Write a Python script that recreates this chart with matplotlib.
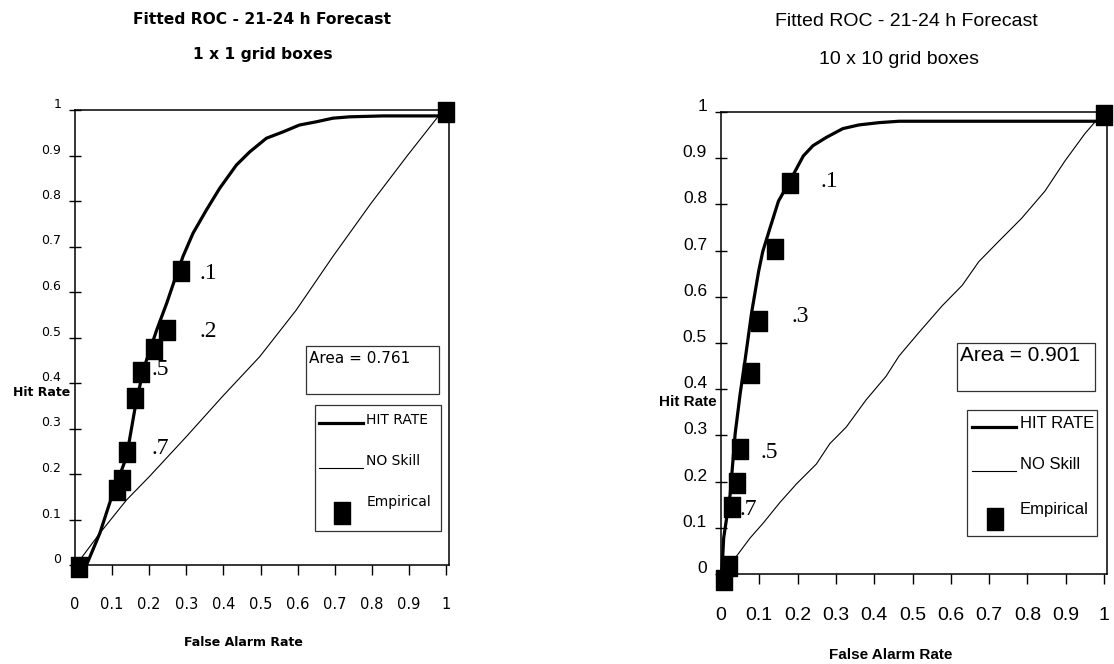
import matplotlib
matplotlib.use('Agg')
import matplotlib.pyplot as plt
from matplotlib.path import Path
from matplotlib.patches import Rectangle
from matplotlib.transforms import ScaledTranslation

# ---------------- data: left panel (1 x 1 grid boxes) ----------------
fit1_far = [0.031, 0.067, 0.099, 0.139, 0.161, 0.184, 0.220, 0.247, 0.270, 0.291, 0.318,
            0.354, 0.390, 0.435, 0.471, 0.516, 0.561, 0.605, 0.650, 0.695, 0.740,
            0.830, 0.982, 1.000]
fit1_hr = [0.000, 0.070, 0.150, 0.238, 0.341, 0.429, 0.516, 0.575, 0.630, 0.678, 0.729,
           0.780, 0.828, 0.879, 0.908, 0.938, 0.952, 0.967, 0.974, 0.982, 0.985,
           0.987, 0.987, 0.987]
nos1_far = [0.000, 0.013, 0.067, 0.139, 0.200, 0.300, 0.397, 0.498, 0.596, 0.695,
            0.798, 0.897, 0.982, 1.000]
nos1_hr = [0.000, 0.011, 0.070, 0.143, 0.194, 0.282, 0.370, 0.458, 0.560, 0.678,
           0.795, 0.901, 0.989, 0.996]
emp1_far = [0.011, 0.112, 0.128, 0.139, 0.161, 0.179, 0.213, 0.248, 0.287, 1.000]
emp1_hr = [-0.004, 0.165, 0.187, 0.249, 0.366, 0.425, 0.474, 0.516, 0.647, 0.996]
lab1_text = ['.1', '.2', '.5', '.7']
lab1_x = [0.359, 0.359, 0.229, 0.229]
lab1_y = [0.641, 0.513, 0.429, 0.256]
area1 = '0.761'

# ---------------- data: right panel (10 x 10 grid boxes) ----------------
fit2_far = [0.000, 0.004, 0.007, 0.024, 0.037, 0.050, 0.063, 0.080, 0.098, 0.109,
            0.128, 0.150, 0.180, 0.215, 0.240, 0.275, 0.318, 0.360, 0.413, 0.465,
            1.000]
fit2_hr = [-0.010, 0.030, 0.078, 0.173, 0.304, 0.390, 0.464, 0.566, 0.654, 0.698,
           0.749, 0.807, 0.851, 0.905, 0.927, 0.945, 0.964, 0.972, 0.977, 0.980,
           0.980]
nos2_far = [0.000, 0.040, 0.076, 0.110, 0.154, 0.197, 0.249, 0.284, 0.327, 0.379,
            0.431, 0.465, 0.517, 0.578, 0.630, 0.673, 0.725, 0.785, 0.846, 0.898,
            0.950, 0.976, 1.000]
nos2_hr = [0.000, 0.038, 0.078, 0.110, 0.155, 0.195, 0.238, 0.282, 0.318, 0.377,
           0.428, 0.472, 0.523, 0.581, 0.625, 0.676, 0.720, 0.770, 0.829, 0.894,
           0.953, 0.978, 0.993]
emp2_far = [0.009, 0.021, 0.030, 0.043, 0.050, 0.079, 0.100, 0.140, 0.180, 1.000]
emp2_hr = [-0.012, 0.017, 0.144, 0.196, 0.271, 0.435, 0.548, 0.703, 0.847, 0.993]
lab2_text = ['.1', '.3', '.5', '.7']
lab2_x = [0.284, 0.206, 0.126, 0.072]
lab2_y = [0.850, 0.558, 0.264, 0.140]
area2 = '0.901'

ticks = [0, 0.1, 0.2, 0.3, 0.4, 0.5, 0.6, 0.7, 0.8, 0.9, 1.0]
tick_labels = ['0', '0.1', '0.2', '0.3', '0.4', '0.5', '0.6', '0.7', '0.8', '0.9', '1']

W, H = 1114, 664
fig = plt.figure(figsize=(W / 100, H / 100), dpi=100)

# custom tall square marker
rect_marker = Path([(-0.37, -0.5), (0.37, -0.5), (0.37, 0.5), (-0.37, 0.5), (-0.37, -0.5)],
                   [Path.MOVETO, Path.LINETO, Path.LINETO, Path.LINETO, Path.CLOSEPOLY])


def px_axes(l, r, b, t):
    return fig.add_axes([l / W, 1 - b / H, (r - l) / W, (b - t) / H])


def panel(ax, xmax, fit_x, fit_y, nos_x, nos_y, emp_x, emp_y, lab_t, lab_x, lab_y,
          area, font, xt_size, yt_size, leg_size, area_size, box_area, box_leg, leg, xpad):
    ax.set_xlim(0, xmax)
    ax.set_ylim(0, 1)
    for s in ax.spines.values():
        s.set_linewidth(1.1)
    ax.set_xticks(ticks)
    ax.set_xticklabels(tick_labels, fontsize=xt_size, family=font)
    ax.set_yticks(ticks)
    ax.set_yticklabels(tick_labels, fontsize=yt_size, family=font)
    ax.tick_params(axis='x', direction='out', length=7, width=1, pad=xpad)
    ax.tick_params(axis='y', direction='inout', length=8, width=1, pad=6)
    off = ScaledTranslation(0, 0.07, fig.dpi_scale_trans)
    for lb in ax.get_yticklabels():
        lb.set_transform(lb.get_transform() + off)

    ax.plot(nos_x, nos_y, color='black', lw=0.8, clip_on=False, zorder=3)
    ax.plot(fit_x, fit_y, color='black', lw=2.3, clip_on=False, zorder=4)
    ax.plot(emp_x, emp_y, linestyle='none', marker=rect_marker, markersize=15,
            color='black', clip_on=False, zorder=5)
    for t, x, y in zip(lab_t, lab_x, lab_y):
        ax.text(x, y, t, fontsize=17, family='Liberation Serif', ha='center', va='center')

    # area box
    x0, x1, y0, y1 = box_area
    ax.add_patch(Rectangle((x0, y0), x1 - x0, y1 - y0, fill=False, edgecolor='#333333',
                           lw=0.9, zorder=2))
    ax.text(x0 + 0.008, y1 - 0.027, 'Area = ' + area, fontsize=area_size, family=font,
            ha='left', va='center')
    # legend box
    x0, x1, y0, y1 = box_leg
    ax.add_patch(Rectangle((x0, y0), x1 - x0, y1 - y0, fill=False, edgecolor='#333333',
                           lw=0.9, zorder=2))
    lx0, lx1, tx, y_hit, y_nos, y_emp_t, sq_x, sq_y = leg
    ax.plot([lx0, lx1], [y_hit, y_hit], color='black', lw=2.3)
    ax.text(tx, y_hit + 0.007, 'HIT RATE', fontsize=leg_size, family=font, ha='left', va='center')
    ax.plot([lx0, lx1], [y_nos, y_nos], color='black', lw=0.8)
    ax.text(tx, y_nos + 0.015, 'NO Skill', fontsize=leg_size, family=font, ha='left', va='center')
    ax.text(tx, y_emp_t, 'Empirical', fontsize=leg_size, family=font, ha='left', va='center')
    ax.plot([sq_x], [sq_y], linestyle='none', marker=rect_marker, markersize=16, color='black')


# ---------------- left panel ----------------
ax1 = px_axes(75, 449, 565, 110)
panel(ax1, 374 / 371, fit1_far, fit1_hr, nos1_far, nos1_hr, emp1_far, emp1_hr,
      lab1_text, lab1_x, lab1_y, area1, 'DejaVu Sans', 10.5, 9, 10, 11,
      (0.622, 0.982, 0.376, 0.481), (0.646, 0.987, 0.075, 0.352),
      (0.659, 0.776, 0.785, 0.311, 0.214, 0.138, 0.72, 0.114), 16)
fig.text(262 / W, 1 - 19 / H, 'Fitted ROC - 21-24 h Forecast', fontsize=11.2,
         fontweight='bold', family='DejaVu Sans', ha='center', va='center')
fig.text(263 / W, 1 - 55 / H, '1 x 1 grid boxes', fontsize=11.2,
         fontweight='bold', family='DejaVu Sans', ha='center', va='center')
fig.text(70 / W, 1 - 393 / H, 'Hit Rate', fontsize=9, fontweight='bold',
         family='DejaVu Sans', ha='right', va='center')
fig.text(243 / W, 1 - 642 / H, 'False Alarm Rate', fontsize=9, fontweight='bold',
         family='DejaVu Sans', ha='center', va='center')

# ---------------- right panel ----------------
ax2 = px_axes(721, 1107, 574, 112)
panel(ax2, 386 / 383, fit2_far, fit2_hr, nos2_far, nos2_hr, emp2_far, emp2_hr,
      lab2_text, lab2_x, lab2_y, area2, 'Liberation Sans', 14, 12.5, 12, 15,
      (0.617, 0.976, 0.397, 0.501), (0.643, 0.982, 0.082, 0.356),
      (0.656, 0.770, 0.781, 0.318, 0.222, 0.140, 0.715, 0.120), 17)
fig.text(906 / W, 1 - 22 / H, 'Fitted ROC - 21-24 h Forecast', fontsize=14,
         family='Liberation Sans', ha='center', va='center')
fig.text(899 / W, 1 - 60 / H, '10 x 10 grid boxes', fontsize=14,
         family='Liberation Sans', ha='center', va='center')
fig.text(717 / W, 1 - 402 / H, 'Hit Rate', fontsize=11, fontweight='bold',
         family='Liberation Sans', ha='right', va='center')
fig.text(891 / W, 1 - 655 / H, 'False Alarm Rate', fontsize=11, fontweight='bold',
         family='Liberation Sans', ha='center', va='center')

fig.savefig('out.png', dpi=100)
